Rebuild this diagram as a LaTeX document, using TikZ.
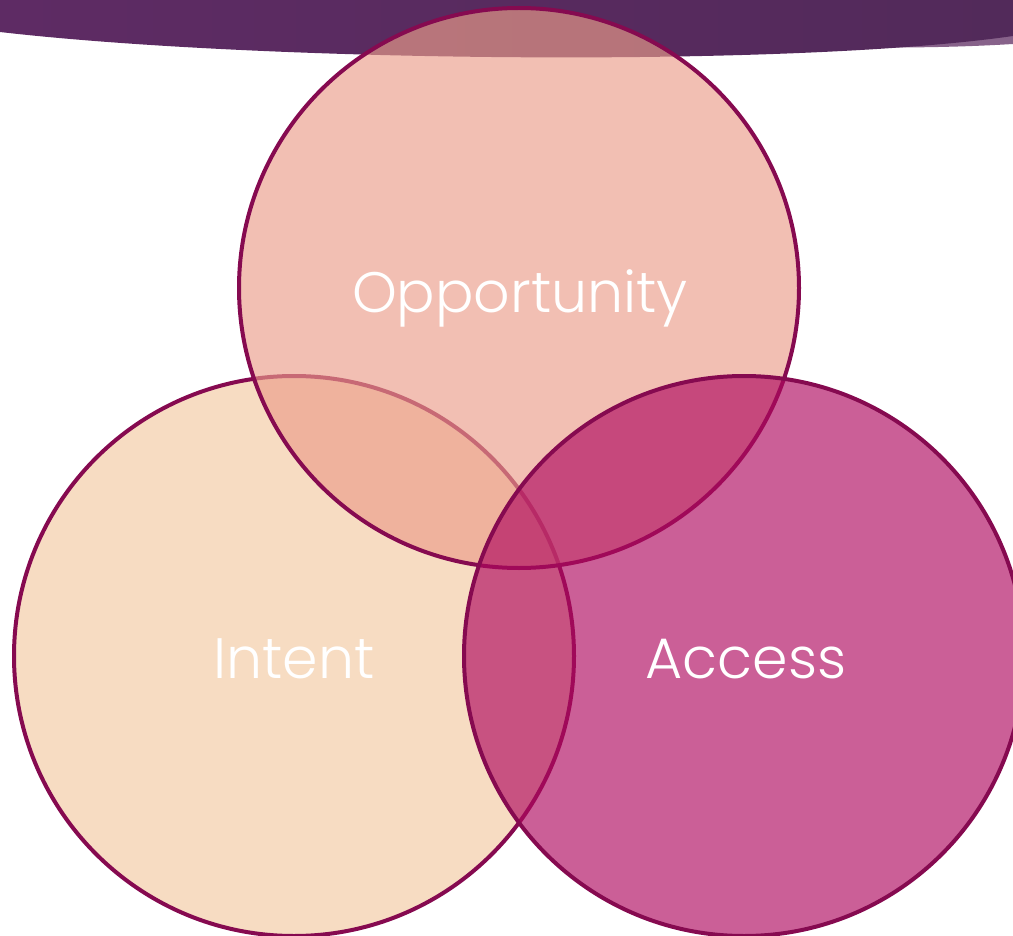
\documentclass[tikz,border=0pt]{standalone}
\usepackage{fontspec}
\newfontfamily\gfont{Poppins}[UprightFont=* Light]
\definecolor{bandL}{RGB}{94,43,100}
\definecolor{bandM}{RGB}{114,51,106}
\definecolor{bandR}{RGB}{82,42,90}
\definecolor{bandLite}{RGB}{135,98,138}
\definecolor{edge}{RGB}{134,10,80}
\definecolor{oppC}{RGB}{235,157,138}
\definecolor{intC}{RGB}{247,220,194}
\definecolor{accC}{RGB}{175,9,95}
\tikzset{
  vcircle/.style={draw=edge, line width=4pt},
  vlabel/.style={text=white, anchor=base, inner sep=0pt, font=\gfont\fontsize{57}{57}\selectfont}
}
\begin{document}
\begin{tikzpicture}[x=1pt,y=-1pt]
\useasboundingbox (0,0) rectangle (1013,936);
% top band
\fill[bandLite] (890,0) -- (1013,0) -- (1013,44) .. controls (980,46) and (940,47.5) .. (890,47.5) -- cycle;
\shade[shading=axis, left color=bandL, middle color=bandM, right color=bandR]
  (0,0) -- (1013,0) -- (1013,36) .. controls (790,68) and (260,62) .. (0,32) -- cycle;
% circles
\fill[intC] (294,656) circle (280);
\draw[vcircle] (294,656) circle (280);
\fill[oppC, fill opacity=0.65] (519,288) circle (280);
\draw[vcircle] (519,288) circle (280);
\fill[accC, fill opacity=0.65] (744,656) circle (280);
\draw[vcircle] (744,656) circle (280);
% labels
\node[vlabel] (opp) at (520,313) {Opportunity};
\node[vlabel] (int) at (294,678) {Intent};
\node[vlabel] (acc) at (746,678) {Access};
\end{tikzpicture}
\end{document}
